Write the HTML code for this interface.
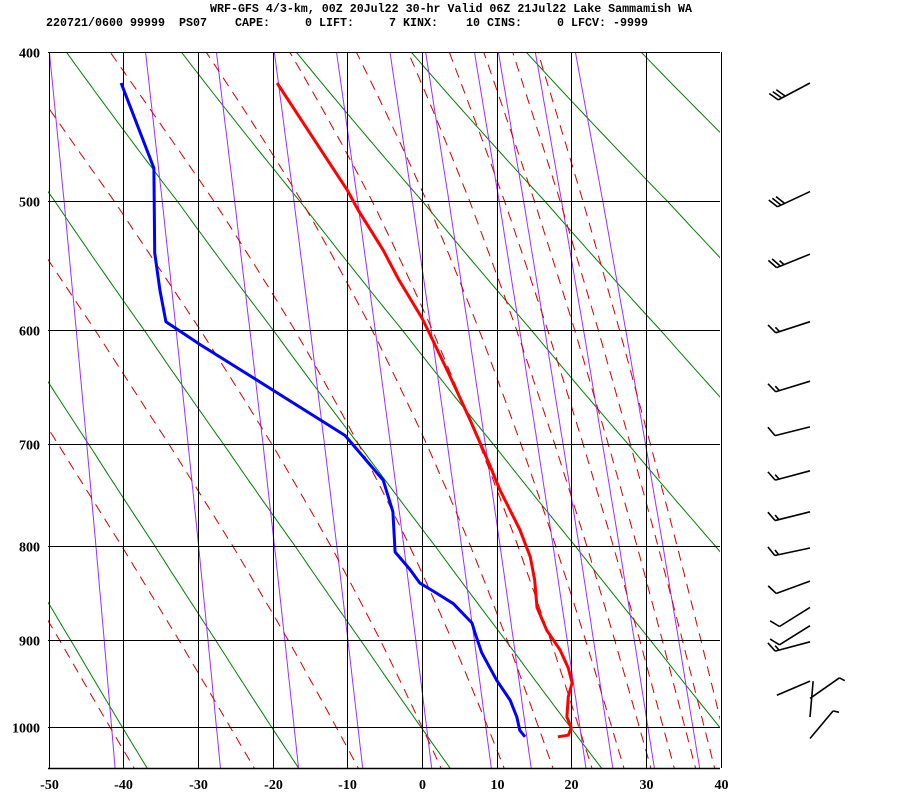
<!DOCTYPE html>
<html><head><meta charset="utf-8"><style>
html,body{margin:0;padding:0;background:#fff;}
svg{display:block;}
text{font-family:"Liberation Mono",monospace;font-weight:bold;}
text.ax{font-family:"Liberation Serif",serif;font-weight:bold;}
</style></head><body>
<svg id="chart" width="900" height="800" viewBox="0 0 900 800" xmlns="http://www.w3.org/2000/svg">
<rect x="0" y="0" width="900" height="800" fill="#fff"/>
<text x="210" y="12" font-size="11.6" textLength="482" lengthAdjust="spacingAndGlyphs" style="white-space:pre">WRF-GFS 4/3-km, 00Z 20Jul22 30-hr Valid 06Z 21Jul22 Lake Sammamish WA</text>
<text x="46" y="26" font-size="11.6" textLength="602" lengthAdjust="spacingAndGlyphs" style="white-space:pre">220721/0600 99999  PS07    CAPE:     0 LIFT:     7 KINX:    10 CINS:     0 LFCV: -9999</text>
<defs><clipPath id="plotclip"><rect x="48" y="52" width="672" height="716"/></clipPath></defs>
<g id="bglines" clip-path="url(#plotclip)"></g>
<g id="grid"></g>
<g id="profiles" clip-path="url(#plotclip)"></g>
<g id="axes"></g>
<g id="winds"></g>
</svg>
<script>
// ---- data ----
const tempP = [419,492,506,536,559,590,604,638,677,720,743,783,811,835,864,889,911,931,948,964,988,1001,1010,1012];
const tempT = [-19.4,-10.0,-8.6,-5.2,-3.1,0.0,1.1,3.7,6.4,9.1,10.4,13.1,14.5,15.1,15.4,16.7,18.5,19.6,20.1,19.6,19.4,20.0,19.6,18.2];
const dewP = [419,476,538,567,593,612,649,692,734,765,806,824,838,849,860,881,892,914,945,968,988,1004,1012];
const dewT = [-40.3,-35.9,-35.8,-35.1,-34.3,-29.7,-20.4,-10.3,-5.2,-3.9,-3.6,-1.6,-0.3,2.0,4.2,6.7,7.1,8.0,10.0,11.8,12.7,13.1,13.8];
const windP = [419,493,539,593,643,684,725,765,802,836,864,884,902,946,966,988,1014];
const windDir = [242,245,248,252,253,256,255,256,258,250,238,238,255,247,55,5,40];
const windSpd = [30,30,25,15,15,10,15,15,15,10,10,10,15,3,5,3,5];
const pLabels = [400,500,600,700,800,900,1000];
const tLabels = [-50,-40,-30,-20,-10,0,10,20,30,40];
const dryTheta = [213,233,253,273,293,313,333,353,373,393,413,433,453,473];
const moistStart = [-41.8,-25.7,-11.5,0,8.8,15.6,21,25.4,29.1,32.3,35.2,37.8,40.2];
const mixW = [0.1,0.4,1,2,4,7,10,16,20,28,40];

// ---- axes ----
const anchorP = [400,500,600,700,800,900,1000];
const anchorY = [52,201,330,444,546,640,727];
function yP(p){
  const lp=Math.log(p);
  let i=0;
  if(p>=1000){i=5;} else { while(i<5 && p>anchorP[i+1]) i++; }
  const l0=Math.log(anchorP[i]), l1=Math.log(anchorP[i+1]);
  return anchorY[i]+(lp-l0)/(l1-l0)*(anchorY[i+1]-anchorY[i]);
}
function xT(t){ return 422 + t*7.4667; }
const NS="http://www.w3.org/2000/svg";
function mk(tag,attrs,parent){const e=document.createElementNS(NS,tag);for(const k in attrs)e.setAttribute(k,attrs[k]);parent.appendChild(e);return e;}
const bg=document.getElementById('bglines'),grid=document.getElementById('grid'),prof=document.getElementById('profiles'),axes=document.getElementById('axes'),winds=document.getElementById('winds');
function ptsStr(arr){return arr.map(a=>a[0].toFixed(1)+','+a[1].toFixed(1)).join(' ');}
const pLev=[];for(let p=390;p<=1060;p+=5)pLev.push(p);

// dry adiabats
dryTheta.forEach(th=>{
  const pts=pLev.map(p=>[xT(th*Math.pow(p/1000,0.2857)-273.15),yP(p)]);
  const e=mk('polyline',{points:ptsStr(pts),fill:'none',stroke:'#008000','stroke-width':1},bg);
  
  
});
// mixing ratio lines
mixW.forEach(w=>{
  const pts=pLev.map(p=>{const r=w/1000;const e=r*p/(0.622+r);const L=Math.log(e/6.112);return [xT(243.5*L/(17.67-L)),yP(p)];});
  const e=mk('polyline',{points:ptsStr(pts),fill:'none',stroke:'#9b30ff','stroke-width':1},bg);
  
  
});
// moist adiabats
function dTdp(T,p){const tc=T-273.15;const es=6.112*Math.exp(17.67*tc/(tc+243.5));const rs=0.622*es/(p-es);
  return (287*T+2.5e6*rs)/(p*(1004+2.5e6*2.5e6*rs*0.622/(287*T*T)));}
moistStart.forEach(t0=>{
  let up=[],T=t0+273.15;
  for(let p=1000;p>=390;p-=2){up.push([xT(T-273.15),yP(p)]);T-=dTdp(T,p)*2;}
  let dn=[];T=t0+273.15;
  for(let p=1000;p<=1060;p+=2){dn.push([xT(T-273.15),yP(p)]);T+=dTdp(T,p)*2;}
  const pts=dn.reverse().concat(up.slice(1));
  const e=mk('polyline',{points:ptsStr(pts),fill:'none',stroke:'#d00000','stroke-width':1,'stroke-dasharray':'10,7'},bg);
  
  
});
// grid
pLabels.forEach(p=>{
  const y=Math.round(yP(p))+0.5;
  const l=mk('line',{x1:48,x2:720,y1:y,y2:y,stroke:'#000','stroke-width':1},grid);
  
  
  const t=mk('text',{x:40,y:y+5,'font-size':14,'text-anchor':'end','class':'ax'},axes);
  
  
  t.textContent=p;
});
tLabels.forEach(v=>{
  const x=Math.round(xT(v))+0.5;
  const l=mk('line',{x1:x,x2:x,y1:52,y2:768,stroke:'#000','stroke-width':1},grid);
  
  
  const t=mk('text',{x:x,y:789,'font-size':14,'text-anchor':'middle','class':'ax'},axes);
  
  
  t.textContent=v;
});
const tl=mk('line',{x1:48,x2:720,y1:52.5,y2:52.5,stroke:'#000','stroke-width':1},grid);


const bl=mk('line',{x1:48,x2:720,y1:768.5,y2:768.5,stroke:'#000','stroke-width':1.5},grid);


// profiles
const tl2=mk('polyline',{points:ptsStr(tempP.map((p,i)=>[xT(tempT[i]),yP(p)])),fill:'none',stroke:'#ff0000','stroke-width':3,'stroke-linejoin':'round'},prof);


const dl=mk('polyline',{points:ptsStr(dewP.map((p,i)=>[xT(dewT[i]),yP(p)])),fill:'none',stroke:'#0000ff','stroke-width':3,'stroke-linejoin':'round'},prof);


// wind barbs
windP.forEach((p,i)=>{
  const g=mk('g',{},winds);
  
  
  const sx=810,sy=yP(p);
  const a=windDir[i]*Math.PI/180;
  const ux=Math.sin(a),uy=-Math.cos(a);
  const L=36;
  const ex=sx+ux*L,ey=sy+uy*L;
  mk('line',{x1:sx,y1:sy,x2:ex,y2:ey,stroke:'#000','stroke-width':1.6},g);
  let s=windSpd[i],k=0;
  const dx=(ux*0.5-uy), dy=(uy*0.5+ux);
  const n=Math.hypot(dx,dy);
  while(s>=10){const bx=ex-ux*k*4,by=ey-uy*k*4;mk('line',{x1:bx,y1:by,x2:bx+dx/n*11,y2:by+dy/n*11,stroke:'#000','stroke-width':1.6},g);s-=10;k++;}
  if(s>=5){const bx=ex-ux*k*4,by=ey-uy*k*4;mk('line',{x1:bx,y1:by,x2:bx+dx/n*6,y2:by+dy/n*6,stroke:'#000','stroke-width':1.6},g);}
});
</script>
</body></html>
